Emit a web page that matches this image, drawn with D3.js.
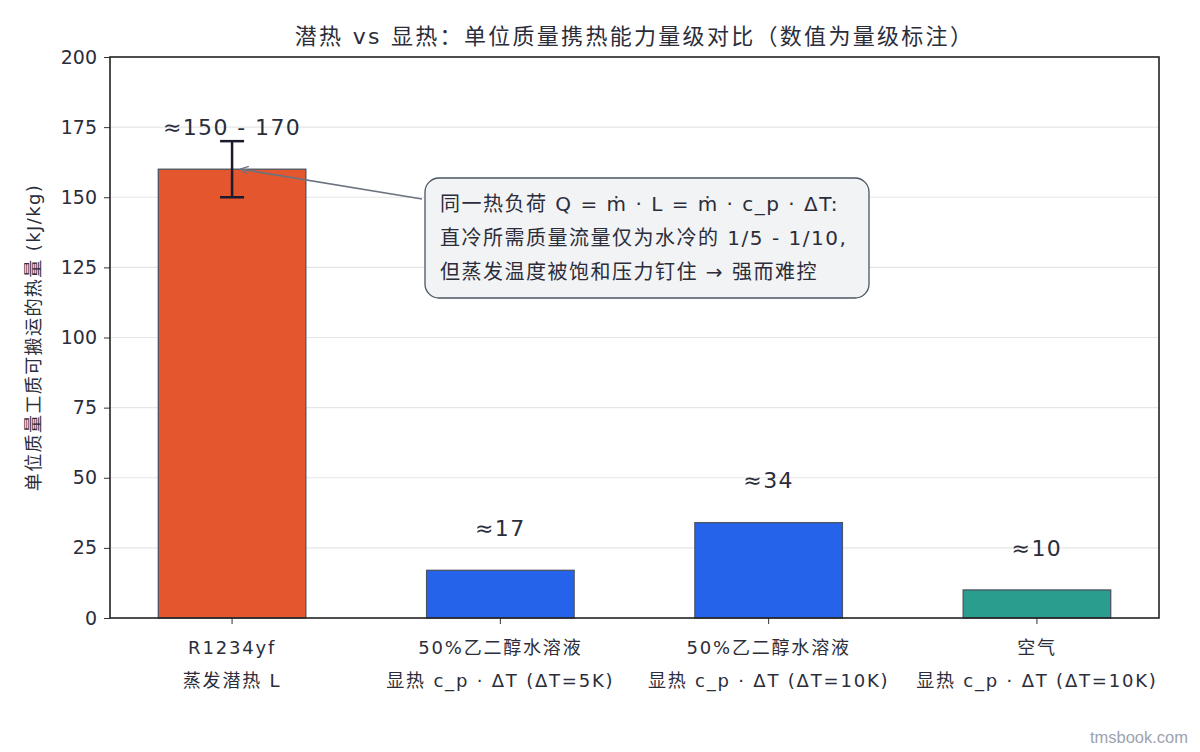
<!DOCTYPE html>
<html>
<head>
<meta charset="utf-8">
<script src="https://cdn.jsdelivr.net/npm/d3@7"></script>
<style>
  body { margin: 0; background: #fff; }
  svg { display: block; font-family: "DejaVu Sans", "Noto Sans CJK SC", sans-serif; }
</style>
</head>
<body>
<div id="chart"></div>
<script>
// data
const categories = ['R1234yf', '50%乙二醇水溶液 (5K)', '50%乙二醇水溶液 (10K)', '空气'];
const labelLines = [
  ['R1234yf', '蒸发潜热 L'],
  ['50%乙二醇水溶液', '显热 c_p · ΔT (ΔT=5K)'],
  ['50%乙二醇水溶液', '显热 c_p · ΔT (ΔT=10K)'],
  ['空气', '显热 c_p · ΔT (ΔT=10K)'],
];
const values = [160, 17, 34, 10];
const errLow = [150, null, null, null];
const errHigh = [170, null, null, null];
const valueLabels = ['≈150 - 170', '≈17', '≈34', '≈10'];
const barColors = ['#e4572e', '#2563eb', '#2563eb', '#2a9d8f'];
const yTicks = [0, 25, 50, 75, 100, 125, 150, 175, 200];
const noteLines = [
  '同一热负荷 Q = \u1E41 · L = \u1E41 · c_p · ΔT:',
  '直冷所需质量流量仅为水冷的 1/5 - 1/10,',
  '但蒸发温度被饱和压力钉住 → 强而难控',
];

const width = 1200, height = 752;
const margin = {top: 57, right: 41, bottom: 134, left: 110};
const textColor = '#2b2d3a';

const svg = d3.select('#chart').append('svg')
  .attr('width', width).attr('height', height);

const x = d3.scaleBand()
  .domain(categories)
  .range([margin.left, width - margin.right])
  .paddingInner(0.45)
  .paddingOuter(0.18);

const y = d3.scaleLinear()
  .domain([0, 200])
  .range([height - margin.bottom, margin.top]);

// grid
svg.append('g')
  .selectAll('line')
  .data(yTicks.filter(d => d > 0 && d < 200))
  .join('line')
  .attr('x1', margin.left).attr('x2', width - margin.right)
  .attr('y1', d => y(d)).attr('y2', d => y(d))
  .attr('stroke', '#e6e6e6').attr('stroke-width', 1.2);

// bars
svg.append('g')
  .selectAll('rect')
  .data(values)
  .join('rect')
  .attr('x', (d, i) => x(categories[i]))
  .attr('y', d => y(d))
  .attr('width', x.bandwidth())
  .attr('height', d => y(0) - y(d))
  .attr('fill', (d, i) => barColors[i])
  .attr('stroke', '#4b5563').attr('stroke-width', 1.3);

// error bar
const err = svg.append('g').attr('stroke', '#1a1b2e').attr('stroke-width', 2.5);
errLow.forEach((lo, i) => {
  if (lo == null) return;
  const cx = x(categories[i]) + x.bandwidth() / 2;
  err.append('line').attr('x1', cx).attr('x2', cx).attr('y1', y(lo)).attr('y2', y(errHigh[i]));
  [lo, errHigh[i]].forEach(v => {
    err.append('line').attr('x1', cx - 12).attr('x2', cx + 12).attr('y1', y(v)).attr('y2', y(v));
  });
});

// value labels
svg.append('g')
  .selectAll('text')
  .data(values)
  .join('text')
  .attr('x', (d, i) => x(categories[i]) + x.bandwidth() / 2)
  .attr('y', d => y(d + 15))
  .attr('dy', '0.35em')
  .attr('text-anchor', 'middle')
  .attr('font-size', 22)
  .attr('letter-spacing', 1.4)
  .attr('fill', textColor)
  .text((d, i) => valueLabels[i]);

// y axis
const yAxis = svg.append('g')
  .attr('transform', `translate(${margin.left},0)`)
  .call(d3.axisLeft(y).tickValues(yTicks).tickSize(6).tickPadding(7));
yAxis.attr('font-family', null);
yAxis.select('.domain').remove();
yAxis.selectAll('text').attr('font-size', 19).attr('fill', textColor);
yAxis.selectAll('line').attr('stroke', '#333');

// x axis
const xAxis = svg.append('g')
  .attr('transform', `translate(0,${height - margin.bottom})`)
  .call(d3.axisBottom(x).tickSize(6).tickFormat(''));
xAxis.attr('font-family', null);
xAxis.select('.domain').remove();
xAxis.selectAll('line').attr('stroke', '#333');
xAxis.selectAll('.tick').each(function (d, i) {
  const t = d3.select(this).append('text')
    .attr('text-anchor', 'middle')
    .attr('fill', textColor)
    .attr('font-size', 18)
    .attr('letter-spacing', 1.8);
  labelLines[i].forEach((s, k) => {
    t.append('tspan').attr('x', 0).attr('y', 36 + k * 33).text(s);
  });
});

// frame
svg.append('rect')
  .attr('x', margin.left).attr('y', margin.top)
  .attr('width', width - margin.left - margin.right)
  .attr('height', height - margin.top - margin.bottom)
  .attr('fill', 'none').attr('stroke', '#222').attr('stroke-width', 1.6);

// y label
svg.append('text')
  .attr('transform', `translate(34,${(margin.top + height - margin.bottom) / 2}) rotate(-90)`)
  .attr('dy', '0.35em')
  .attr('text-anchor', 'middle')
  .attr('font-size', 18)
  .attr('letter-spacing', 1.4)
  .attr('fill', textColor)
  .text('单位质量工质可搬运的热量 (kJ/kg)');

// title
svg.append('text')
  .attr('x', (margin.left + width - margin.right) / 2)
  .attr('y', 44)
  .attr('text-anchor', 'middle')
  .attr('font-size', 22)
  .attr('letter-spacing', 2.3)
  .attr('fill', textColor)
  .text('潜热 vs 显热：单位质量携热能力量级对比（数值为量级标注）');

// annotation arrow
const defs = svg.append('defs');
defs.append('marker')
  .attr('id', 'arr').attr('viewBox', '0 0 10 10')
  .attr('refX', 9).attr('refY', 5)
  .attr('markerWidth', 8).attr('markerHeight', 8)
  .attr('markerUnits', 'userSpaceOnUse')
  .attr('orient', 'auto')
  .append('path').attr('d', 'M0,0 L10,5 L0,10')
  .attr('fill', 'none').attr('stroke', '#6b7280').attr('stroke-width', 1.6);

const tipX = x(categories[0]) + x.bandwidth() / 2 + 9;
svg.append('line')
  .attr('x1', 422).attr('y1', 199)
  .attr('x2', tipX).attr('y2', y(values[0]))
  .attr('stroke', '#6b7280').attr('stroke-width', 1.6)
  .attr('marker-end', 'url(#arr)');

// annotation box
const note = svg.append('g');
note.append('rect')
  .attr('x', 425).attr('y', 178).attr('width', 444).attr('height', 120)
  .attr('rx', 14)
  .attr('fill', '#f2f3f5').attr('stroke', '#4b5563').attr('stroke-width', 1.3);
noteLines.forEach((s, k) => {
  note.append('text')
    .attr('x', 440).attr('y', 211 + k * 34)
    .attr('font-size', 20)
    .attr('letter-spacing', 1.5)
    .attr('fill', textColor)
    .text(s);
});

// watermark
svg.append('text')
  .attr('x', 1188).attr('y', 743)
  .attr('text-anchor', 'end')
  .attr('font-size', 16.5)
  .attr('font-family', '"Liberation Sans", sans-serif')
  .attr('fill', '#9ca3af')
  .text('tmsbook.com');
</script>
</body>
</html>
